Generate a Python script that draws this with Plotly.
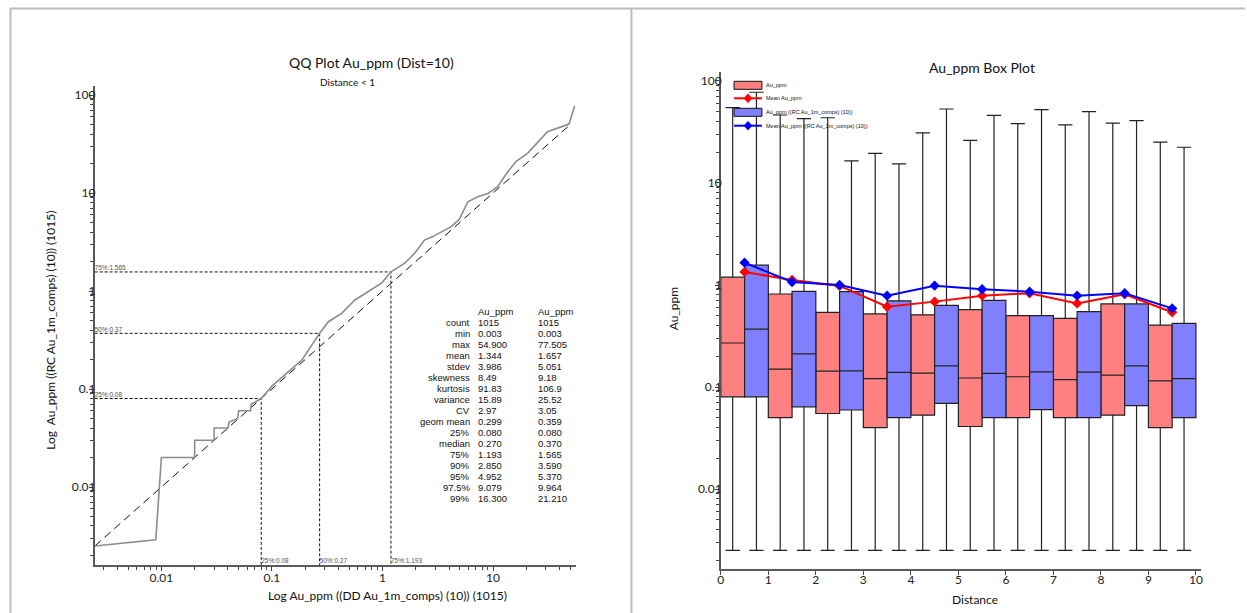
import plotly.graph_objects as go

W, H = 1247, 613


def px(x):
    return x / W


def py(y):
    return 1 - y / H


FONT = "Lato, 'Open Sans', sans-serif"
TABLE_FONT = "'Liberation Sans', Arial, sans-serif"

# ---------------- QQ plot data (quantile pairs DD vs RC) ----------------
qq_dd = [0.0025, 0.0089, 0.01, 0.02, 0.02, 0.03, 0.03, 0.04, 0.041, 0.049, 0.05,
         0.064, 0.065, 0.08, 0.1, 0.142, 0.187, 0.219, 0.27, 0.324, 0.427, 0.563,
         0.743, 0.98, 1.193, 1.59, 1.95, 2.40, 2.85, 3.40, 4.18, 4.952, 5.92, 7.28,
         9.079, 11.0, 13.6, 16.3, 20.5, 31.1, 48.7, 54.9]
qq_rc = [0.0025, 0.0029, 0.02, 0.02, 0.03, 0.03, 0.04, 0.04, 0.046, 0.05, 0.06,
         0.06, 0.07, 0.08, 0.107, 0.150, 0.198, 0.26, 0.37, 0.486, 0.592, 0.81,
         0.984, 1.2, 1.565, 1.92, 2.42, 3.31, 3.59, 4.03, 4.53, 5.37, 8.15, 9.16,
         9.964, 11.6, 16.5, 21.21, 25.4, 42.2, 50.6, 77.505]
diag_vals = [0.0025, 50]

pct_names = ["25%", "50%", "75%"]
pct_dd = [0.08, 0.27, 1.193]
pct_rc = [0.08, 0.37, 1.565]

stat_header = ["Au_ppm", "Au_ppm"]
stat_names = ["count", "min", "max", "mean", "stdev", "skewness", "kurtosis", "variance",
              "CV", "geom mean", "25%", "median", "75%", "90%", "95%", "97.5%", "99%"]
stat_dd = ["1015", "0.003", "54.900", "1.344", "3.986", "8.49", "91.83", "15.89", "2.97",
           "0.299", "0.080", "0.270", "1.193", "2.850", "4.952", "9.079", "16.300"]
stat_rc = ["1015", "0.003", "77.505", "1.657", "5.051", "9.18", "106.9", "25.52", "3.05",
           "0.359", "0.080", "0.370", "1.565", "3.590", "5.370", "9.964", "21.210"]

# ---------------- Box plot data by distance bin ----------------
dist_bins = [0, 1, 2, 3, 4, 5, 6, 7, 8, 9]

dd_min = [0.0025, 0.0025, 0.0025, 0.0025, 0.0025, 0.0025, 0.0025, 0.0025, 0.0025, 0.0025]
dd_q1 = [0.08, 0.050, 0.055, 0.040, 0.053, 0.041, 0.050, 0.050, 0.053, 0.040]
dd_med = [0.27, 0.150, 0.143, 0.121, 0.137, 0.1225, 0.126, 0.118, 0.131, 0.115]
dd_q3 = [1.193, 0.816, 0.54, 0.52, 0.51, 0.573, 0.50, 0.471, 0.652, 0.405]
dd_max = [54.9, 46.4, 43.6, 19.5, 31.0, 26.2, 38.2, 37.1, 38.7, 25.1]
dd_mean = [1.344, 1.12, 0.98, 0.613, 0.687, 0.786, 0.83, 0.66, 0.81, 0.54]

rc_min = [0.0025, 0.0025, 0.0025, 0.0025, 0.0025, 0.0025, 0.0025, 0.0025, 0.0025, 0.0025]
rc_q1 = [0.08, 0.064, 0.0595, 0.050, 0.069, 0.050, 0.060, 0.050, 0.0656, 0.050]
rc_med = [0.37, 0.211, 0.144, 0.139, 0.161, 0.136, 0.141, 0.140, 0.161, 0.121]
rc_q3 = [1.565, 0.867, 0.86, 0.70, 0.63, 0.708, 0.50, 0.548, 0.652, 0.421]
rc_max = [77.505, 42.7, 16.5, 15.4, 53.1, 46.1, 52.3, 50.0, 40.8, 22.4]
rc_mean = [1.657, 1.07, 1.0, 0.786, 0.985, 0.907, 0.86, 0.786, 0.83, 0.59]

legend_names = ["Au_ppm", "Mean Au_ppm", "Au_ppm ((RC Au_1m_comps) (10))",
                "Mean Au_ppm ((RC Au_1m_comps) (10))"]

RED_FILL = "#ff8080"
BLUE_FILL = "#8080ff"
RED = "#ff0000"
BLUE = "#0000ff"

QQ_XRANGE = [-2.604, 1.748]
QQ_YRANGE = [-2.796, 2.092]
BOX_YRANGE = [-2.784, 2.088]

fig = go.Figure()

# ---- QQ plot ----
x_lo = 10 ** QQ_XRANGE[0]
y_lo = 10 ** QQ_YRANGE[0]
for xv, yv in zip(pct_dd, pct_rc):
    fig.add_trace(go.Scatter(x=[x_lo, xv, xv], y=[yv, yv, y_lo], mode="lines",
                             line=dict(color="#111", width=1, dash="3px,2px"),
                             showlegend=False, hoverinfo="skip", xaxis="x", yaxis="y"))
fig.add_trace(go.Scatter(x=diag_vals, y=diag_vals, mode="lines",
                         line=dict(color="#111", width=1, dash="8px,5px"),
                         showlegend=False, hoverinfo="skip", xaxis="x", yaxis="y"))
fig.add_trace(go.Scatter(x=qq_dd, y=qq_rc, mode="lines",
                         line=dict(color="#8c8c8c", width=1.6),
                         showlegend=False, xaxis="x", yaxis="y"))
# percentile labels along the axes
fig.add_trace(go.Scatter(
    x=[x_lo] * 3, y=pct_rc, mode="text",
    text=[f"{n}:{v:g}" for n, v in zip(pct_names, pct_rc)],
    textposition="top right", textfont=dict(family=TABLE_FONT, size=6.5, color="#555"),
    showlegend=False, hoverinfo="skip", xaxis="x", yaxis="y"))
fig.add_trace(go.Scatter(
    x=pct_dd, y=[y_lo] * 3, mode="text",
    text=[f"{n}:{v:g}" for n, v in zip(pct_names, pct_dd)],
    textposition="top right", textfont=dict(family=TABLE_FONT, size=6.5, color="#555"),
    showlegend=False, hoverinfo="skip", xaxis="x", yaxis="y"))

# ---- Box plot ----
dd_x = [d + 0.25 for d in dist_bins]
rc_x = [d + 0.75 for d in dist_bins]
mean_x = [d + 0.5 for d in dist_bins]

box_common = dict(width=0.5, whiskerwidth=0.6, boxpoints=False, showlegend=False,
                  line=dict(color="#222", width=1.2), xaxis="x2", yaxis="y2")
fig.add_trace(go.Box(x=dd_x, q1=dd_q1, median=dd_med, q3=dd_q3, lowerfence=dd_min,
                     upperfence=dd_max, fillcolor=RED_FILL, name=legend_names[0], **box_common))
fig.add_trace(go.Box(x=rc_x, q1=rc_q1, median=rc_med, q3=rc_q3, lowerfence=rc_min,
                     upperfence=rc_max, fillcolor=BLUE_FILL, name=legend_names[2], **box_common))
fig.add_trace(go.Scatter(x=mean_x, y=dd_mean, mode="lines+markers", name=legend_names[1],
                         line=dict(color=RED, width=2),
                         marker=dict(symbol="diamond", size=8, color=RED),
                         showlegend=False, xaxis="x2", yaxis="y2"))
fig.add_trace(go.Scatter(x=mean_x, y=rc_mean, mode="lines+markers", name=legend_names[3],
                         line=dict(color=BLUE, width=2),
                         marker=dict(symbol="diamond", size=8, color=BLUE),
                         showlegend=False, xaxis="x2", yaxis="y2"))

minor_vals = [k * 10.0 ** e for e in range(-4, 3) for k in range(2, 10)]
dec_vals = [0.01, 0.1, 1, 10, 100]
dec_text = ["0.01", "0.1", "1", "10", "100"]

tickfont = dict(family=FONT, size=12, color="#222")
axis_common = dict(showline=True, linecolor="#5a5a5a", linewidth=1.6, showgrid=False,
                   zeroline=False, ticks="outside", ticklen=4, tickcolor="#444",
                   tickfont=tickfont)
log_minor = dict(tickvals=minor_vals, ticks="outside", ticklen=3, tickcolor="#444")

fig.update_layout(
    width=W, height=H, margin=dict(l=0, r=0, t=0, b=0),
    paper_bgcolor="white", plot_bgcolor="white", showlegend=False,
    xaxis=dict(type="log", range=QQ_XRANGE, domain=[px(92), px(575)], anchor="y",
               tickvals=dec_vals[:4], ticktext=dec_text[:4], minor=log_minor,
               ticklabelstandoff=-3, **axis_common),
    yaxis=dict(type="log", range=QQ_YRANGE, domain=[py(565), py(86)], anchor="x",
               tickvals=dec_vals, ticktext=dec_text, minor=log_minor,
               ticklabelstandoff=-9, **axis_common),
    xaxis2=dict(range=[0, 10.1], domain=[px(720.7), px(1202.5)], anchor="y2",
                tickvals=list(range(11)), ticklabelstandoff=-5, **axis_common),
    yaxis2=dict(type="log", range=BOX_YRANGE, domain=[py(569), py(72)], anchor="x2",
                tickvals=dec_vals, ticktext=dec_text, minor=log_minor,
                ticklabelstandoff=-9, **axis_common),
)

annotations = []


def note(x, y, text, size, family=FONT, color="#111", xanchor="center", yanchor="middle",
         angle=0):
    annotations.append(dict(x=px(x), y=py(y), xref="paper", yref="paper", text=text,
                            showarrow=False, xanchor=xanchor, yanchor=yanchor,
                            textangle=angle, font=dict(family=family, size=size, color=color)))


# titles and axis titles
note(370, 63, "QQ Plot Au_ppm (Dist=10)", 14)
note(346, 82, "Distance < 1", 10)
note(386, 595, "Log Au_ppm ((DD Au_1m_comps) (10)) (1015)", 12)
note(47, 330, "Log  Au_ppm ((RC Au_1m_comps) (10)) (1015)", 12, angle=-90)
note(983, 67, "Au_ppm Box Plot", 14)
note(673, 308, "Au_ppm", 12, angle=-90)
note(976, 599, "Distance", 12)

# statistics table
row0 = 311
note(475, row0, stat_header[0], 9.5, family=TABLE_FONT, xanchor="left")
note(535, row0, stat_header[1], 9.5, family=TABLE_FONT, xanchor="left")
for i, (name, a, b) in enumerate(zip(stat_names, stat_dd, stat_rc)):
    yy = row0 + 11.05 * (i + 1)
    note(471, yy, name, 9.5, family=TABLE_FONT, xanchor="right")
    note(475, yy, a, 9.5, family=TABLE_FONT, xanchor="left")
    note(535, yy, b, 9.5, family=TABLE_FONT, xanchor="left")

# box plot key
shapes = []
key_rows = [85.3, 98.3, 112.3, 125.7]
key_x0, key_x1 = 734, 762
for i, (name, yy) in enumerate(zip(legend_names, key_rows)):
    is_box = i in (0, 2)
    col = RED if i < 2 else BLUE
    fill = RED_FILL if i < 2 else BLUE_FILL
    if is_box:
        shapes.append(dict(type="rect", xref="paper", yref="paper",
                           x0=px(key_x0), x1=px(key_x1), y0=py(yy - 4), y1=py(yy + 4),
                           fillcolor=fill, line=dict(color="#111", width=1)))
    else:
        cx = (key_x0 + key_x1) / 2
        shapes.append(dict(type="line", xref="paper", yref="paper",
                           x0=px(key_x0), x1=px(key_x1), y0=py(yy), y1=py(yy),
                           line=dict(color=col, width=2)))
        path = (f"M {px(cx - 4)},{py(yy)} L {px(cx)},{py(yy - 4.5)} "
                f"L {px(cx + 4)},{py(yy)} L {px(cx)},{py(yy + 4.5)} Z")
        shapes.append(dict(type="path", xref="paper", yref="paper", path=path,
                           fillcolor=col, line=dict(color=col, width=0.5)))
    note(764, yy, name, 5.5, family=TABLE_FONT, xanchor="left")

# panel frames
frame = dict(color="#bdbdbd", width=2)
shapes.append(dict(type="line", xref="paper", yref="paper", x0=px(7), x1=1,
                   y0=py(8.5), y1=py(8.5), line=frame))
shapes.append(dict(type="line", xref="paper", yref="paper", x0=px(7.5), x1=px(7.5),
                   y0=py(8), y1=0, line=frame))
shapes.append(dict(type="line", xref="paper", yref="paper", x0=px(631), x1=px(631),
                   y0=py(8), y1=0, line=frame))

fig.update_layout(annotations=annotations, shapes=shapes)

fig.write_html("out.html")
